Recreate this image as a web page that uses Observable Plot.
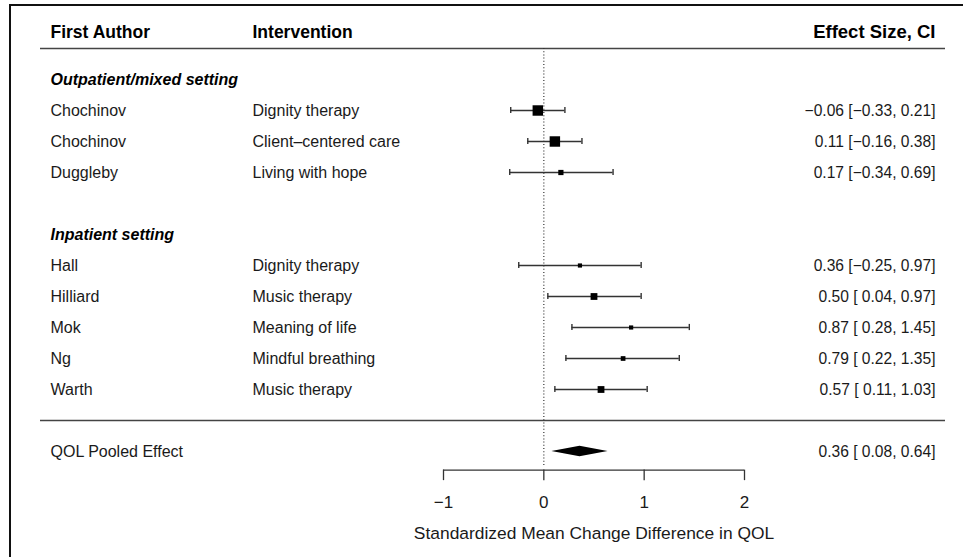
<!DOCTYPE html>
<html>
<head>
<meta charset="utf-8">
<script src="https://cdn.jsdelivr.net/npm/d3@7"></script>
<script src="https://cdn.jsdelivr.net/npm/@observablehq/plot@0.6"></script>
<style>
  html, body { margin: 0; padding: 0; background: #fff; overflow: hidden; }
  #wrap { position: relative; width: 963px; height: 557px; }
  #border { position: absolute; left: 9px; top: 4px; width: 960px; height: 560px;
            border-top: 2px solid #111; border-left: 2px solid #111; }
  #chart { position: absolute; left: 0; top: 0; }
</style>
</head>
<body>
<div id="wrap"><div id="border"></div><div id="chart"></div></div>
<script>
// ---- data ----
const groups = ["Outpatient/mixed setting", "Inpatient setting"];
const studyGroup = [0, 0, 0, 1, 1, 1, 1, 1];
const authors = ["Chochinov", "Chochinov", "Duggleby", "Hall", "Hilliard", "Mok", "Ng", "Warth"];
const interventions = ["Dignity therapy", "Client–centered care", "Living with hope", "Dignity therapy",
  "Music therapy", "Meaning of life", "Mindful breathing", "Music therapy"];
const estimates = [-0.06, 0.11, 0.17, 0.36, 0.50, 0.87, 0.79, 0.57];
const lowers = [-0.33, -0.16, -0.34, -0.25, 0.04, 0.28, 0.22, 0.11];
const uppers = [0.21, 0.38, 0.69, 0.97, 0.97, 1.45, 1.35, 1.03];
const weights = [20, 20, 10, 8, 13, 8, 9, 13];
const pooledLabel = "QOL Pooled Effect";
const pooled = [0.36, 0.08, 0.64]; // estimate, lower, upper
const headers = ["First Author", "Intervention", "Effect Size, CI"];
const xTicks = [-1, 0, 1, 2];
const xTitle = "Standardized Mean Change Difference in QOL";

// ---- build table ----
const fmt = v => (v < 0 ? "\u2212" : "") + Math.abs(v).toFixed(2);
const fmtLo = v => (v < 0 ? "" : " ") + fmt(v);
const ciText = (e, l, u) => `${fmt(e)} [${fmtLo(l)}, ${fmt(u)}]`;

const groupRows = [];
const studyRows = [];
let r = 1;
groups.forEach((g, gi) => {
  groupRows.push({label: g, row: r});
  r++;
  authors.forEach((a, i) => {
    if (studyGroup[i] !== gi) return;
    studyRows.push({author: a, intervention: interventions[i], est: estimates[i],
      lo: lowers[i], hi: uppers[i], weight: weights[i], row: r,
      ci: ciText(estimates[i], lowers[i], uppers[i])});
    r++;
  });
  r++;
});
const sepRow = r - 1;
const pooledRow = r;
const headerRow = -0.52;
const axisRow = pooledRow + 0.6;
const dHalf = 0.17;
const diamond = [
  {x: pooled[1], y1: pooledRow, y2: pooledRow},
  {x: pooled[0], y1: pooledRow - dHalf, y2: pooledRow + dHalf},
  {x: pooled[2], y1: pooledRow, y2: pooledRow}
];
const pooledRows = [{label: pooledLabel, row: pooledRow, ci: ciText(...pooled)}];
const tickFmt = d => (d < 0 ? "\u2212" + Math.abs(d) : String(d));
const ink = "#1a1a1a";
const lineInk = "#333";

const chart = Plot.plot({
  width: 963,
  height: 557,
  marginLeft: 40,
  marginRight: 18,
  marginTop: 0,
  marginBottom: 0,
  x: {domain: [-1, 2], range: [443, 744], axis: null},
  y: {domain: [0, 13], range: [48, 451], axis: null},
  r: {type: "linear", domain: [0, 20], range: [0, 5.9]},
  style: {fontFamily: "'Liberation Sans', Arial, Helvetica, sans-serif", fontSize: "16px",
          color: ink, background: "transparent"},
  marks: [
    // header and separator rules
    Plot.ruleY([0, sepRow], {stroke: "#444", strokeWidth: 1.5}),
    // null line
    Plot.ruleX([0], {y1: 0, y2: pooledRow + 0.48, stroke: "#333", strokeDasharray: "1,2.2", strokeWidth: 1.2}),
    // header texts
    Plot.text([headers[0]], {frameAnchor: "left", dx: 10, y: () => headerRow, textAnchor: "start", fontWeight: "bold", fontSize: 17.5, fill: "#000"}),
    Plot.text([headers[1]], {frameAnchor: "left", dx: 212, y: () => headerRow, textAnchor: "start", fontWeight: "bold", fontSize: 17.5, fill: "#000"}),
    Plot.text([headers[2]], {frameAnchor: "right", dx: -10, y: () => headerRow, textAnchor: "end", fontWeight: "bold", fontSize: 18.5, fill: "#000"}),
    // group labels
    Plot.text(groupRows, {frameAnchor: "left", dx: 10, y: "row", text: "label", textAnchor: "start",
      fontWeight: "bold", fontStyle: "italic", fill: "#000"}),
    // study columns
    Plot.text(studyRows, {frameAnchor: "left", dx: 10, y: "row", text: "author", textAnchor: "start", fill: ink}),
    Plot.text(studyRows, {frameAnchor: "left", dx: 212, y: "row", text: "intervention", textAnchor: "start", fill: ink}),
    Plot.text(studyRows, {frameAnchor: "right", dx: -10, y: "row", text: "ci", textAnchor: "end", fontSize: 15.6, fill: ink}),
    // pooled texts
    Plot.text(pooledRows, {frameAnchor: "left", dx: 10, y: "row", text: "label", textAnchor: "start", fill: ink}),
    Plot.text(pooledRows, {frameAnchor: "right", dx: -10, y: "row", text: "ci", textAnchor: "end", fontSize: 15.6, fill: ink}),
    // confidence intervals
    Plot.ruleY(studyRows, {y: "row", x1: "lo", x2: "hi", stroke: lineInk, strokeWidth: 1.4}),
    Plot.ruleX(studyRows, {x: "lo", y1: d => d.row - 0.1, y2: d => d.row + 0.1, stroke: lineInk, strokeWidth: 1.4}),
    Plot.ruleX(studyRows, {x: "hi", y1: d => d.row - 0.1, y2: d => d.row + 0.1, stroke: lineInk, strokeWidth: 1.4}),
    // point estimates
    Plot.dot(studyRows, {x: "est", y: "row", r: "weight", symbol: "square", fill: "#000", stroke: null}),
    // pooled diamond
    Plot.area(diamond, {x1: "x", y1: "y1", y2: "y2", fill: "#000"}),
    // x axis
    Plot.ruleY([axisRow], {x1: d3.min(xTicks), x2: d3.max(xTicks), stroke: lineInk, strokeWidth: 1.3}),
    Plot.ruleX(xTicks, {x: d => d, y1: axisRow, y2: axisRow + 0.34, stroke: lineInk, strokeWidth: 1.3}),
    Plot.text(xTicks, {x: d => d, y: () => axisRow + 1.05, text: tickFmt, fontSize: 17, fill: ink}),
    Plot.text([xTitle], {x: () => (d3.min(xTicks) + d3.max(xTicks)) / 2, y: () => axisRow + 2.05, fontSize: 17.4, fill: ink})
  ]
});
document.getElementById("chart").appendChild(chart);
</script>
</body>
</html>
